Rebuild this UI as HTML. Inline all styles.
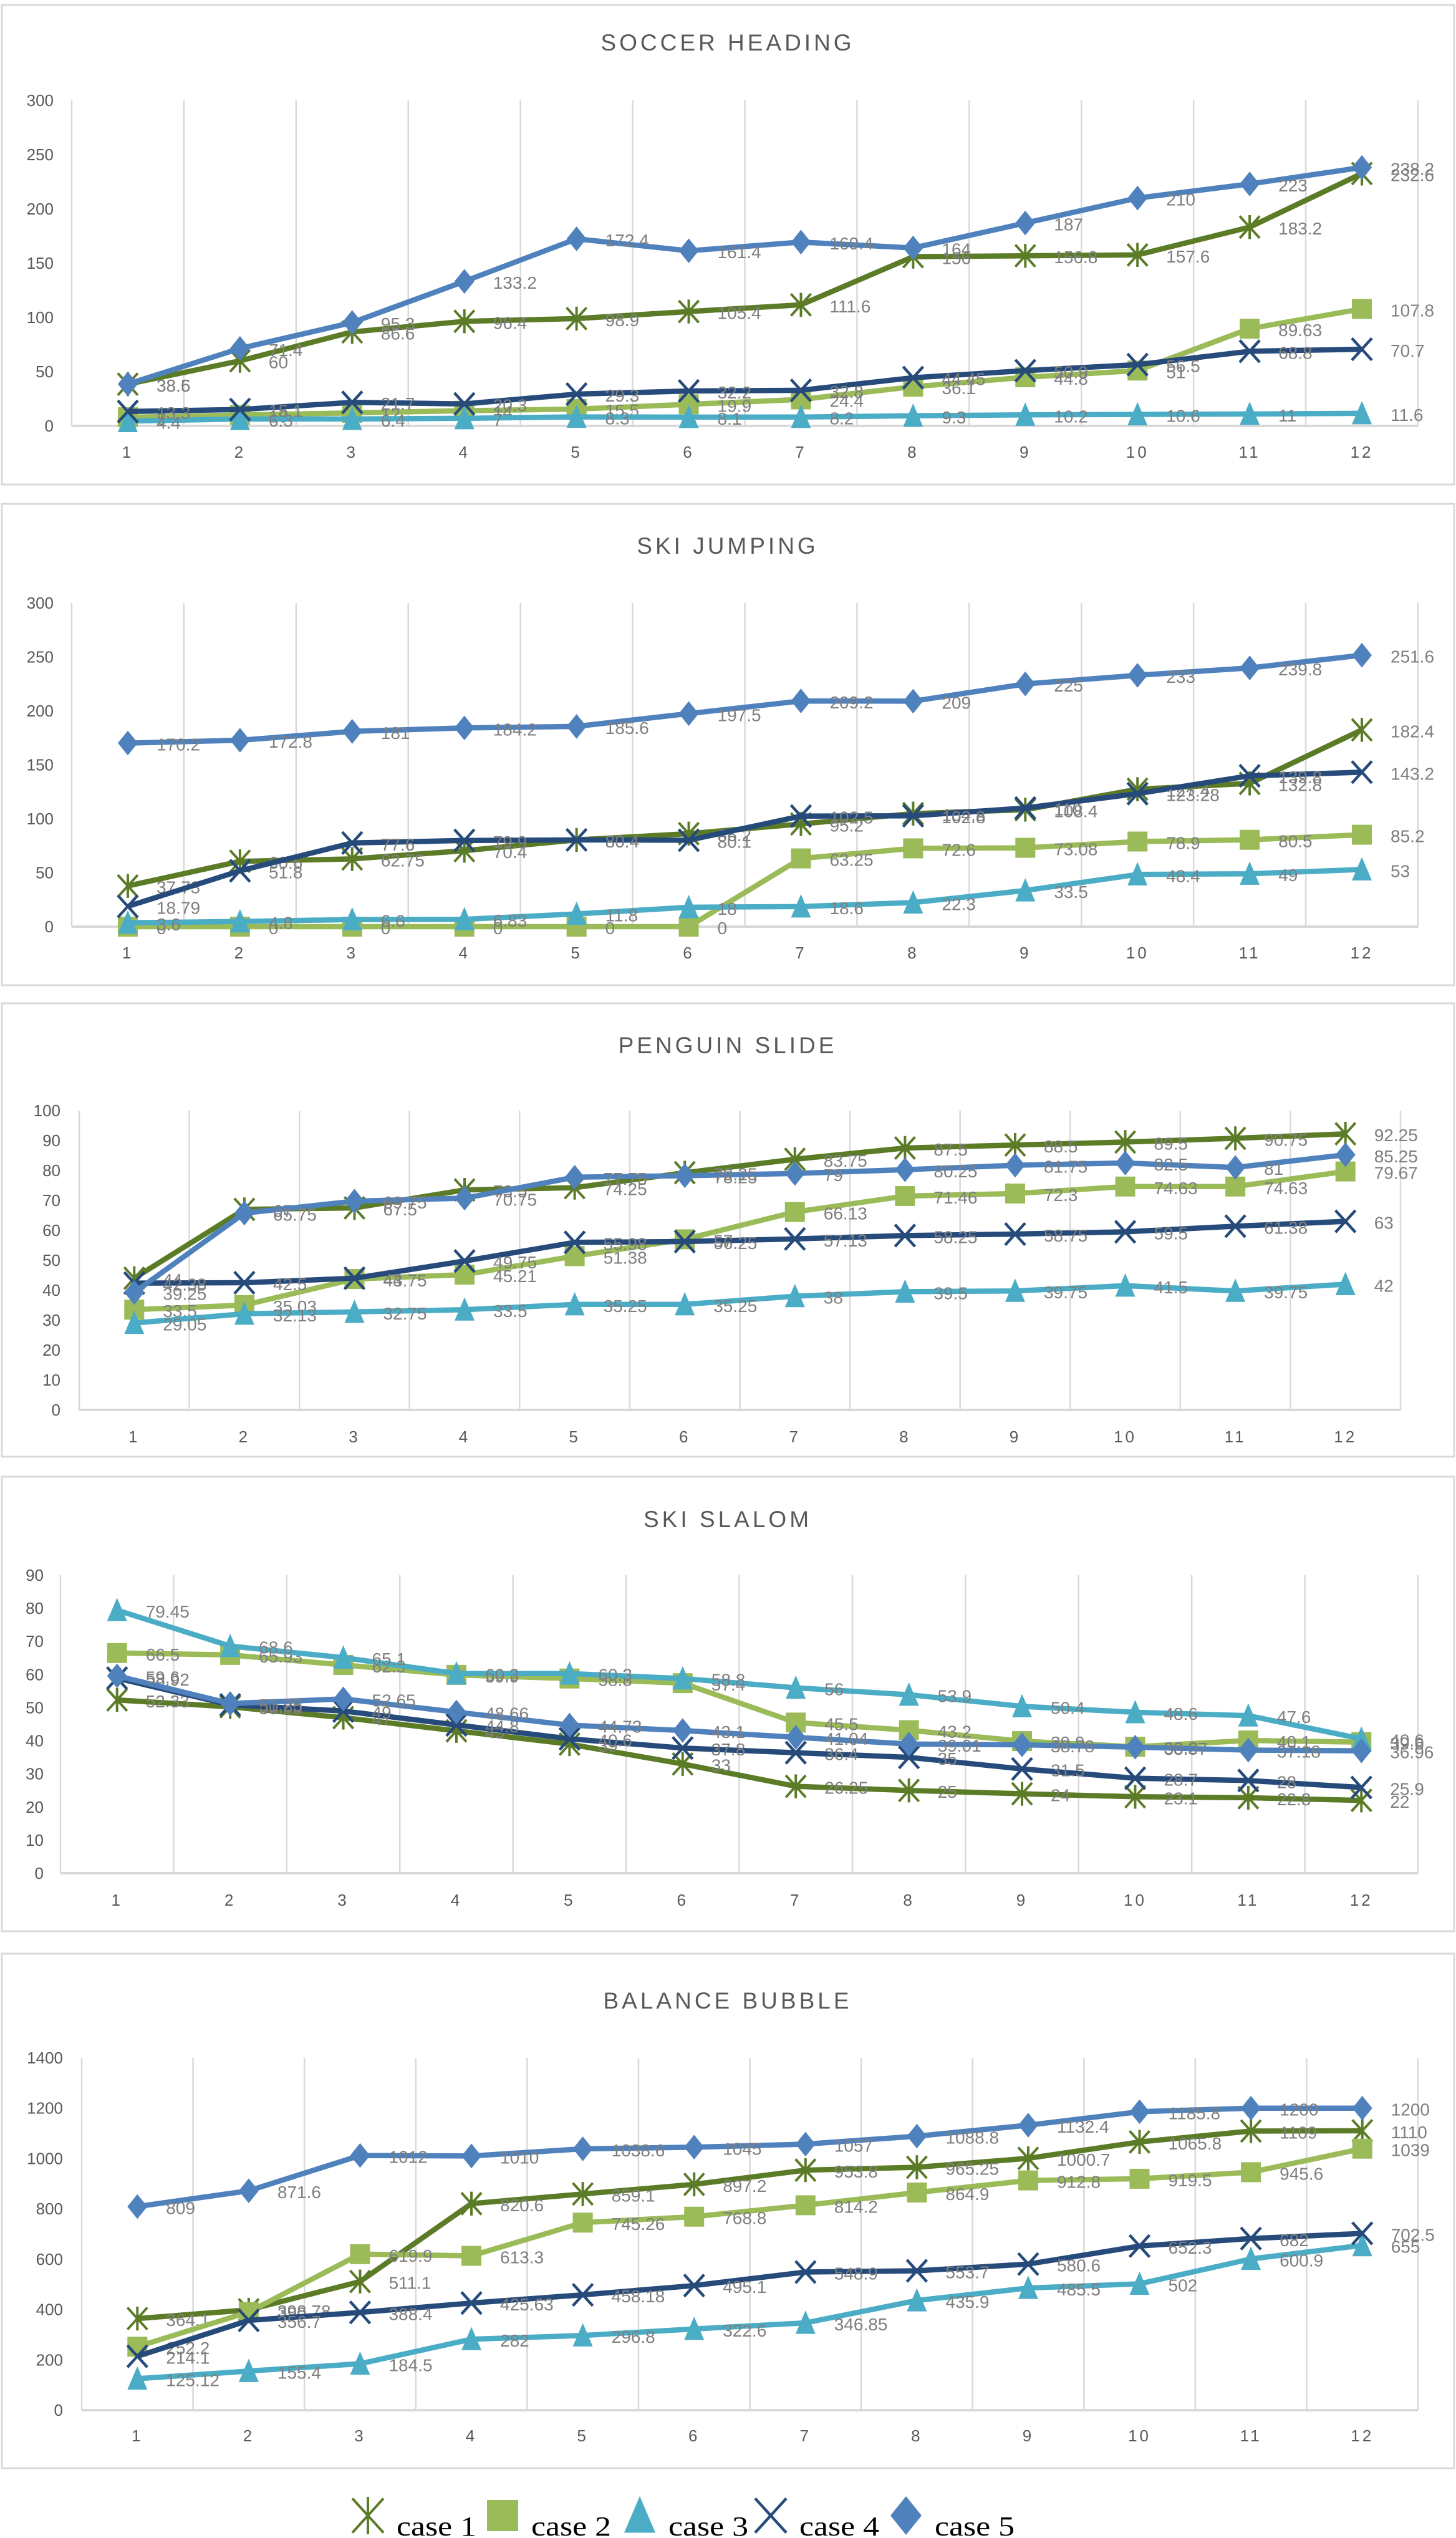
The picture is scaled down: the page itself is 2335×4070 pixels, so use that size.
<!DOCTYPE html>
<html><head><meta charset="utf-8">
<style>
html,body{margin:0;padding:0;background:#fff;}
svg{display:block;}
text{font-family:"Liberation Sans",sans-serif;}
</style></head>
<body>
<svg id="root" xmlns="http://www.w3.org/2000/svg" width="2335" height="4070" viewBox="0 0 2335 4070"></svg>
<script>
const categories = [1,2,3,4,5,6,7,8,9,10,11,12];
const seriesNames = ["case 1","case 2","case 3","case 4","case 5"];

// Soccer heading
const soccerCase1 = [38.5,60,86.6,96.4,98.9,105.4,111.6,156,156.8,157.6,183.2,232.6];
const soccerCase2 = [8,10,12,14,15.5,19.9,24.4,36.1,44.8,51,89.63,107.8];
const soccerCase3 = [4.4,6.3,6.4,7,8.3,8.1,8.2,9.3,10.2,10.6,11,11.6];
const soccerCase4 = [13.3,15.1,21.7,20.3,29.3,32.2,32.8,44.45,50.9,56.5,68.8,70.7];
const soccerCase5 = [38.6,71.4,95.3,133.2,172.4,161.4,169.4,164,187,210,223,238.2];
const soccerTicks = [0,50,100,150,200,250,300];

// Ski jumping
const jumpCase1 = [37.73,60.6,62.75,70.4,80.4,86.2,95.2,104.8,108.4,127.4,132.8,182.4];
const jumpCase2 = [0,0,0,0,0,0,63.25,72.6,73.08,78.9,80.5,85.2];
const jumpCase3 = [3.6,4.8,6.6,6.83,11.8,18,18.6,22.3,33.5,48.4,49,53];
const jumpCase4 = [18.79,51.8,77.6,79.9,80.4,80.1,102.5,102.8,110,123.28,139.8,143.2];
const jumpCase5 = [170.2,172.8,181,184.2,185.6,197.5,209.2,209,225,233,239.8,251.6];
const jumpTicks = [0,50,100,150,200,250,300];

// Penguin slide
const penguinCase1 = [44,67,67.5,73.5,74.25,79.25,83.75,87.5,88.5,89.5,90.75,92.25];
const penguinCase2 = [33.5,35.03,43.75,45.21,51.38,57,66.13,71.46,72.3,74.63,74.63,79.67];
const penguinCase3 = [29.05,32.13,32.75,33.5,35.25,35.25,38,39.5,39.75,41.5,39.75,42];
const penguinCase4 = [42.38,42.5,44,49.75,55.98,56.25,57.13,58.25,58.75,59.5,61.38,63];
const penguinCase5 = [39.25,65.75,69.75,70.75,77.75,78.25,79,80.25,81.75,82.5,81,85.25];
const penguinTicks = [0,10,20,30,40,50,60,70,80,90,100];

// Ski slalom
const slalomCase1 = [52.33,50.25,47,43,39,33,26.25,25,24,23.1,22.8,22];
const slalomCase2 = [66.5,65.93,62.9,59.9,58.8,57.4,45.5,43.2,39.9,38.2,40.1,39.6];
const slalomCase3 = [79.45,68.6,65.1,60.3,60.3,58.8,56,53.9,50.4,48.6,47.6,40.6];
const slalomCase4 = [58.92,50.85,49,44.8,40.6,37.8,36.4,35,31.5,28.7,28,25.9];
const slalomCase5 = [59.6,51.25,52.65,48.66,44.73,43.1,41.04,39.01,38.78,38.07,37.18,36.96];
const slalomTicks = [0,10,20,30,40,50,60,70,80,90];

// Balance bubble
const bubbleCase1 = [364.1,398.78,511.1,820.6,859.1,897.2,953.8,965.25,1000.7,1065.8,1109,1110];
const bubbleCase2 = [252.2,390,619.9,613.3,745.26,768.8,814.2,864.9,912.8,919.5,945.6,1039];
const bubbleCase3 = [125.12,155.4,184.5,282,296.8,322.6,346.85,435.9,485.5,502,600.9,655];
const bubbleCase4 = [214.1,356.7,388.4,425.63,458.18,495.1,548.9,553.7,580.6,652.3,682,702.5];
const bubbleCase5 = [809,871.6,1012,1010,1038.6,1045,1057,1088.8,1132.4,1185.8,1200,1200];
const bubbleTicks = [0,200,400,600,800,1000,1200,1400];

const COLORS = ["#5b7b27","#9bbb59","#4bacc6","#264a7a","#4f81bd"];
const NS = "http://www.w3.org/2000/svg";
const root = document.getElementById('root');

function mk(tag, attrs, parent){
  const e = document.createElementNS(NS, tag);
  for (const k in attrs) e.setAttribute(k, attrs[k]);
  (parent||root).appendChild(e);
  return e;
}

function marker(g, kind, x, y, color, s){
  let m;
  if (kind === 0) {
    m = mk('path', {d:`M${x-s*0.5} ${y-s*0.55}L${x+s*0.5} ${y+s*0.55}M${x+s*0.5} ${y-s*0.55}L${x-s*0.5} ${y+s*0.55}M${x} ${y-s*0.6}L${x} ${y+s*0.6}`, stroke:color, 'stroke-width':4, fill:'none'}, g);
  } else if (kind === 1) {
    m = mk('rect', {x:x-s*0.5, y:y-s*0.5, width:s, height:s, fill:color}, g);
  } else if (kind === 2) {
    m = mk('path', {d:`M${x} ${y-s*0.62}L${x+s*0.5} ${y+s*0.55}L${x-s*0.5} ${y+s*0.55}Z`, fill:color}, g);
  } else if (kind === 3) {
    m = mk('path', {d:`M${x-s*0.5} ${y-s*0.55}L${x+s*0.5} ${y+s*0.55}M${x+s*0.5} ${y-s*0.55}L${x-s*0.5} ${y+s*0.55}`, stroke:color, 'stroke-width':4.5, fill:'none'}, g);
  } else {
    m = mk('path', {d:`M${x} ${y-s*0.62}L${x+s*0.5} ${y}L${x} ${y+s*0.62}L${x-s*0.5} ${y}Z`, fill:color}, g);
  }
  return m;
}

function drawChart(cfg){
  const g = mk('g', {});
  
  
  const border = mk('rect', {x:3, y:cfg.top, width:2329, height:cfg.bottom-cfg.top, fill:'#fff', stroke:'#d9d9d9', 'stroke-width':3}, g);
  
  
  const t = mk('text', {x:1167, y:cfg.titleY+13, 'text-anchor':'middle', 'font-size':37, fill:'#595959', 'letter-spacing':5}, g);
  t.textContent = cfg.title;
  
  
  const ticks = cfg.ticks;
  const ymin = ticks[0], ymax = ticks[ticks.length-1];
  const yS = v => cfg.y0 + (v - ymin) / (ymax - ymin) * (cfg.yTop - cfg.y0);
  const n = categories.length;
  const step = (cfg.right - cfg.left) / n;
  const xS = i => cfg.left + step * (i + 0.5);
  // vertical gridlines
  for (let i = 0; i <= n; i++) {
    const gl = mk('line', {x1:cfg.left+step*i, x2:cfg.left+step*i, y1:cfg.yTop, y2:cfg.y0, stroke:'#d9d9d9', 'stroke-width':2.5}, g);
    
    
  }
  const ax = mk('line', {x1:cfg.left, x2:cfg.right, y1:cfg.y0, y2:cfg.y0, stroke:'#d9d9d9', 'stroke-width':4}, g);
  
  
  ticks.forEach(v => {
    const tl = mk('text', {x:cfg.tickX, y:yS(v)+9, 'text-anchor':'end', 'font-size':26, fill:'#595959'}, g);
    tl.textContent = v;
    
    
  });
  categories.forEach((c, i) => {
    const cl = mk('text', {x:xS(i), y:cfg.catY+9, 'text-anchor':'middle', 'font-size':26, fill:'#595959', 'letter-spacing':4}, g);
    cl.textContent = c;
    
    
  });
  cfg.series.forEach((vals, si) => {
    const col = COLORS[si];
    const sg = mk('g', {}, g);
    
    
    const d = vals.map((v, i) => (i ? 'L' : 'M') + xS(i).toFixed(1) + ' ' + yS(v).toFixed(1)).join('');
    const ln = mk('path', {d:d, fill:'none', stroke:col, 'stroke-width':8.5, 'stroke-linejoin':'round'}, sg);
    
    
    vals.forEach((v, i) => {
      const m = marker(sg, si, xS(i), yS(v), col, 32);
      
      
    });
    vals.forEach((v, i) => {
      const lb = mk('text', {x:xS(i)+46, y:yS(v)+12, 'font-size':28, fill:'#7f7f7f'}, sg);
      lb.textContent = v;
      
      
    });
  });
}

drawChart({name:'soccer-heading-chart', title:'SOCCER HEADING', top:8, bottom:777, titleY:68, yTop:161, y0:683, left:115, right:2274, tickX:86, catY:725, ticks:soccerTicks,
  series:[soccerCase1,soccerCase2,soccerCase3,soccerCase4,soccerCase5]});
drawChart({name:'ski-jumping-chart', title:'SKI JUMPING', top:808, bottom:1580, titleY:875, yTop:967, y0:1486, left:115, right:2274, tickX:86, catY:1528, ticks:jumpTicks,
  series:[jumpCase1,jumpCase2,jumpCase3,jumpCase4,jumpCase5]});
drawChart({name:'penguin-slide-chart', title:'PENGUIN SLIDE', top:1609, bottom:2336, titleY:1676, yTop:1781, y0:2261, left:127, right:2246, tickX:97, catY:2304, ticks:penguinTicks,
  series:[penguinCase1,penguinCase2,penguinCase3,penguinCase4,penguinCase5]});
drawChart({name:'ski-slalom-chart', title:'SKI SLALOM', top:2368, bottom:3097, titleY:2436, yTop:2526, y0:3004, left:97, right:2274, tickX:70, catY:3047, ticks:slalomTicks,
  series:[slalomCase1,slalomCase2,slalomCase3,slalomCase4,slalomCase5]});
drawChart({name:'balance-bubble-chart', title:'BALANCE BUBBLE', top:3133, bottom:3958, titleY:3208, yTop:3300, y0:3865, left:131, right:2274, tickX:101, catY:3906, ticks:bubbleTicks,
  series:[bubbleCase1,bubbleCase2,bubbleCase3,bubbleCase4,bubbleCase5]});

// legend
const legendX = [590, 806, 1026, 1236, 1453];
const lg = mk('g', {});


seriesNames.forEach((nm, i) => {
  const eg = mk('g', {}, lg);
  
  
  const m = marker(eg, i, legendX[i], 4034, COLORS[i], 50);
  
  
  const tx = mk('text', {x:legendX[i]+46, y:4066, 'font-size':44, fill:'#000', textLength:128, lengthAdjust:'spacingAndGlyphs', style:'font-family:"Liberation Serif",serif'}, eg);
  tx.textContent = nm;
  
  
});
</script>
</body></html>
